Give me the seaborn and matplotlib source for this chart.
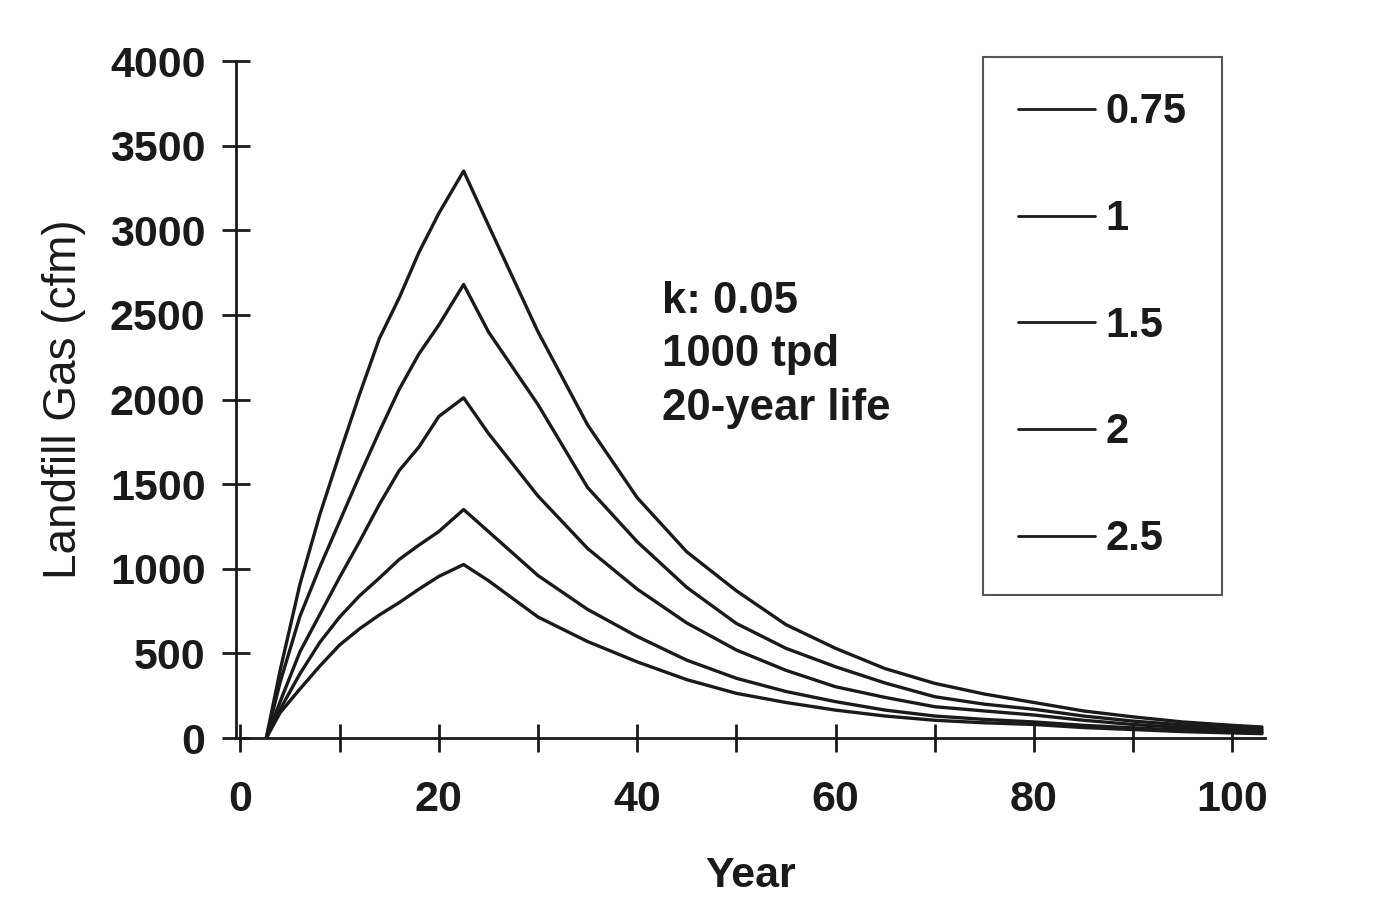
import matplotlib
matplotlib.use("Agg")
import matplotlib.pyplot as plt
import numpy as np
import pandas as pd
import seaborn as sns

# ---- data ----
years = [2.6, 4, 6, 8, 10, 12, 14, 16, 18, 20, 22.5, 25, 30, 35, 40, 45, 50,
         55, 60, 65, 70, 75, 80, 85, 90, 95, 100, 103]
gas_075 = [0, 150, 290, 425, 550, 645, 727, 800, 880, 955, 1025, 930, 715, 570,
           450, 345, 264, 210, 165, 130, 105, 90, 80, 62, 50, 38, 30, 26]
gas_1 = [0, 170, 380, 565, 715, 840, 945, 1055, 1140, 1220, 1350, 1220, 960,
         760, 600, 460, 353, 275, 215, 165, 130, 110, 95, 75, 60, 47, 38, 33]
gas_15 = [0, 215, 510, 730, 950, 1160, 1380, 1580, 1720, 1900, 2010, 1800, 1430,
          1120, 880, 680, 520, 400, 303, 240, 185, 160, 136, 105, 80, 62, 48, 42]
gas_2 = [0, 330, 720, 1010, 1280, 1550, 1810, 2060, 2270, 2440, 2680, 2400, 1970,
         1480, 1160, 890, 677, 530, 421, 325, 244, 200, 170, 130, 100, 78, 60, 52]
gas_25 = [0, 400, 910, 1320, 1680, 2030, 2360, 2600, 2870, 3100, 3350, 3030, 2400,
          1850, 1420, 1100, 870, 670, 530, 410, 323, 260, 210, 160, 125, 95, 75, 65]
series_labels = ["0.75", "1", "1.5", "2", "2.5"]
series_values = [gas_075, gas_1, gas_15, gas_2, gas_25]

x_ticks_major = [0, 20, 40, 60, 80, 100]
x_ticks_minor = [10, 30, 50, 70, 90]
y_ticks = [0, 500, 1000, 1500, 2000, 2500, 3000, 3500, 4000]

annotation = "k: 0.05\n1000 tpd\n20-year life"

df = pd.concat(
    [pd.DataFrame({"Year": years, "gas": vals, "series": lab})
     for lab, vals in zip(series_labels, series_values)],
    ignore_index=True,
)

sns.set_style("ticks")
plt.rcParams["font.family"] = ["Liberation Sans", "DejaVu Sans"]

INK = "#1a1a1a"
fig = plt.figure(figsize=(13.99, 9.23), dpi=100, facecolor="white")
ax = fig.add_axes([0.1687, 0.2004, 0.7355, 0.7335])

sns.lineplot(data=df, x="Year", y="gas", hue="series", hue_order=series_labels,
             palette=[INK] * 5, linewidth=2.4, ax=ax, legend=True)

ax.set_xlim(-0.45, 103.3)
ax.set_ylim(0, 4000)
ax.set_xticks(x_ticks_major)
ax.set_xticks(x_ticks_minor, minor=True)
ax.set_yticks(y_ticks)

for s in ["top", "right"]:
    ax.spines[s].set_visible(False)
for s in ["left", "bottom"]:
    ax.spines[s].set_linewidth(2.0)
    ax.spines[s].set_color(INK)

ax.tick_params(axis="both", which="both", direction="inout", length=20,
               width=2.0, color=INK)
ax.tick_params(axis="x", which="major", pad=20)
ax.tick_params(axis="y", which="major", pad=12)
for lab in ax.get_xticklabels() + ax.get_yticklabels():
    lab.set_fontsize(31)
    lab.set_fontweight("bold")
    lab.set_color(INK)

ax.set_xlabel("Year", fontsize=31, fontweight="bold", color=INK, labelpad=26)
ax.set_ylabel("Landfill Gas (cfm)", fontsize=33, color=INK, labelpad=17)

handles, labels = ax.get_legend_handles_labels()
leg = ax.legend(handles, labels, loc="upper right",
                bbox_to_anchor=(0.8735, 0.9382), bbox_transform=fig.transFigure,
                frameon=True, fancybox=False, framealpha=1,
                edgecolor="#555555", handlelength=1.85, handletextpad=0.25,
                labelspacing=1.6, borderpad=0.85, borderaxespad=0,
                prop={"size": 30, "weight": "bold"})
leg.get_frame().set_linewidth(1.5)
for line in leg.get_lines():
    line.set_linewidth(2.0)
for t in leg.get_texts():
    t.set_color(INK)

fig.text(0.473, 0.696, annotation, fontsize=31.5, fontweight="bold",
         color=INK, va="top", ha="left", linespacing=1.4)

fig.savefig("out.png", dpi=100, facecolor="white")
